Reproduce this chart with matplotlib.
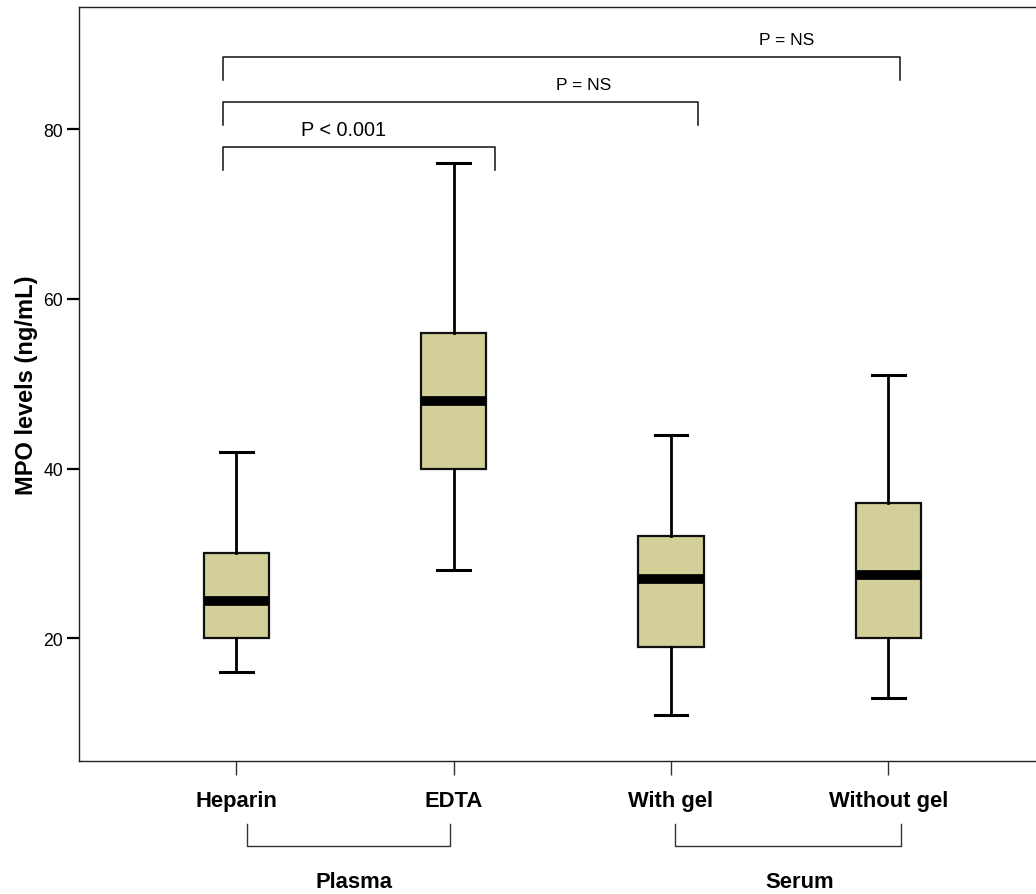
import matplotlib
matplotlib.use("Agg")
import matplotlib.pyplot as plt

plt.rcParams['font.family'] = ['Liberation Sans', 'DejaVu Sans']

# ---- data ----
categories = ["Heparin", "EDTA", "With gel", "Without gel"]
whisker_low = [16, 28, 11, 13]
q1 = [20, 40, 19, 20]
median = [24.4, 48, 27, 27.5]
q3 = [30, 56, 32, 36]
whisker_high = [42, 76, 44, 51]
group_labels = ["Plasma", "Serum"]
comparison_labels = ["P < 0.001", "P = NS", "P = NS"]
y_ticks = [20, 40, 60, 80]

# ---- layout ----
W, H = 1036, 895
fig = plt.figure(figsize=(W / 100, H / 100), dpi=100)
ax = fig.add_axes([79 / W, (H - 762.3) / H, (W - 79) / W, 754.3 / H])

positions = [1, 2, 3, 4]
stats = []
for i, c in enumerate(categories):
    stats.append(dict(label=c, whislo=whisker_low[i], q1=q1[i], med=median[i],
                      q3=q3[i], whishi=whisker_high[i], fliers=[]))

box_color = '#D3CF99'
ax.bxp(stats, positions=positions, widths=0.30, patch_artist=True,
       showfliers=False, capwidths=0.15,
       boxprops=dict(facecolor=box_color, edgecolor='#111111', linewidth=1.6),
       whiskerprops=dict(color='black', linewidth=2.0),
       capprops=dict(color='black', linewidth=2.2),
       medianprops=dict(color='black', linewidth=7, solid_capstyle='butt'))

ax.set_xlim(0.276, 4.68)
ax.set_ylim(5.5, 94.4)

ax.set_yticks(y_ticks)
ax.set_yticklabels([str(t) for t in y_ticks], fontsize=12.7)
ax.tick_params(axis='y', length=9, width=1.6, color='black', pad=2.6)
ax.set_xticks(positions)
ax.set_xticklabels(categories, fontsize=15.8, fontweight='bold')
ax.tick_params(axis='x', length=10, width=1.0, color='#333333', pad=10.5)

for s in ['left', 'bottom', 'top']:
    ax.spines[s].set_linewidth(1.0)
    ax.spines[s].set_color('#222222')
ax.spines['right'].set_visible(False)

ax.set_ylabel("MPO levels (ng/mL)", fontsize=17, fontweight='bold', labelpad=4)

# ---- comparison brackets (top) ----
bracket_left = 0.94
bracket_rights = [2.189, 3.123, 4.055]
bracket_tops = [77.9, 83.2, 88.5]
bracket_drop = 2.7
text_x = [1.492, 2.598, 3.533]
text_y = [79.35, 84.74, 90.04]
text_sizes = [14.3, 12.6, 12.6]
for r, t, lab, tx, ty, fs in zip(bracket_rights, bracket_tops, comparison_labels,
                                  text_x, text_y, text_sizes):
    ax.plot([bracket_left, bracket_left, r, r], [t - bracket_drop, t, t, t - bracket_drop],
            color='#111111', linewidth=1.1)
    ax.text(tx, ty, lab, ha='center', va='baseline', fontsize=fs)

# ---- group brackets (below axis) ----
group_spans = [(1.048, 1.983), (3.019, 4.058)]
group_text_x = [1.542, 3.594]
for (a, b), lab, gx in zip(group_spans, group_labels, group_text_x):
    ax.plot([a, a, b, b], [-1.88, -4.51, -4.51, -1.88], color='#333333',
            linewidth=1.0, clip_on=False)
    ax.text(gx, -9.31, lab, ha='center', va='baseline', fontsize=15.8,
            fontweight='bold', clip_on=False)

fig.savefig("out.png", dpi=100)
